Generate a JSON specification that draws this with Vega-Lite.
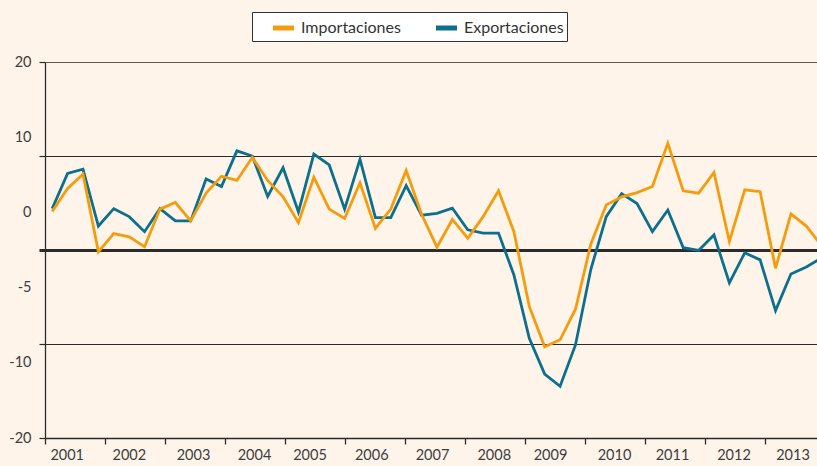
{
  "$schema": "https://vega.github.io/schema/vega-lite/v6.json",
  "width": 772,
  "height": 376,
  "autosize": {"type": "none"},
  "padding": {"left": 45, "top": 62, "right": 0, "bottom": 28},
  "background": "#fef4ea",
  "config": {"view": {"stroke": null}, "font": "Lato"},
  "data": {"values": [
    {"t":0,"serie":"Exportaciones","v":4.4},{"t":1,"serie":"Exportaciones","v":8.15},{"t":2,"serie":"Exportaciones","v":8.6},{"t":3,"serie":"Exportaciones","v":2.55},{"t":4,"serie":"Exportaciones","v":4.4},{"t":5,"serie":"Exportaciones","v":3.55},{"t":6,"serie":"Exportaciones","v":1.95},{"t":7,"serie":"Exportaciones","v":4.4},{"t":8,"serie":"Exportaciones","v":3.1},{"t":9,"serie":"Exportaciones","v":3.1},
    {"t":10,"serie":"Exportaciones","v":7.55},{"t":11,"serie":"Exportaciones","v":6.75},{"t":12,"serie":"Exportaciones","v":10.55},{"t":13,"serie":"Exportaciones","v":10.0},{"t":14,"serie":"Exportaciones","v":5.7},{"t":15,"serie":"Exportaciones","v":8.75},{"t":16,"serie":"Exportaciones","v":4.05},{"t":17,"serie":"Exportaciones","v":10.2},{"t":18,"serie":"Exportaciones","v":9.05},{"t":19,"serie":"Exportaciones","v":4.35},
    {"t":20,"serie":"Exportaciones","v":9.65},{"t":21,"serie":"Exportaciones","v":3.45},{"t":22,"serie":"Exportaciones","v":3.45},{"t":23,"serie":"Exportaciones","v":6.85},{"t":24,"serie":"Exportaciones","v":3.7},{"t":25,"serie":"Exportaciones","v":3.9},{"t":26,"serie":"Exportaciones","v":4.45},{"t":27,"serie":"Exportaciones","v":2.15},{"t":28,"serie":"Exportaciones","v":1.8},{"t":29,"serie":"Exportaciones","v":1.8},
    {"t":30,"serie":"Exportaciones","v":-2.65},{"t":31,"serie":"Exportaciones","v":-9.4},{"t":32,"serie":"Exportaciones","v":-13.2},{"t":33,"serie":"Exportaciones","v":-14.5},{"t":34,"serie":"Exportaciones","v":-10.1},{"t":35,"serie":"Exportaciones","v":-2.05},{"t":36,"serie":"Exportaciones","v":3.55},{"t":37,"serie":"Exportaciones","v":6.0},{"t":38,"serie":"Exportaciones","v":4.95},{"t":39,"serie":"Exportaciones","v":1.95},
    {"t":40,"serie":"Exportaciones","v":4.25},{"t":41,"serie":"Exportaciones","v":0.25},{"t":42,"serie":"Exportaciones","v":-0.05},{"t":43,"serie":"Exportaciones","v":1.6},{"t":44,"serie":"Exportaciones","v":-3.5},{"t":45,"serie":"Exportaciones","v":-0.3},{"t":46,"serie":"Exportaciones","v":-1.05},{"t":47,"serie":"Exportaciones","v":-6.45},{"t":48,"serie":"Exportaciones","v":-2.55},{"t":49,"serie":"Exportaciones","v":-1.8},{"t":50,"serie":"Exportaciones","v":-0.85},
    {"t":0,"serie":"Importaciones","v":4.1},{"t":1,"serie":"Importaciones","v":6.55},{"t":2,"serie":"Importaciones","v":8.05},{"t":3,"serie":"Importaciones","v":-0.2},{"t":4,"serie":"Importaciones","v":1.75},{"t":5,"serie":"Importaciones","v":1.4},{"t":6,"serie":"Importaciones","v":0.35},{"t":7,"serie":"Importaciones","v":4.35},{"t":8,"serie":"Importaciones","v":5.05},{"t":9,"serie":"Importaciones","v":3.1},
    {"t":10,"serie":"Importaciones","v":6.05},{"t":11,"serie":"Importaciones","v":7.85},{"t":12,"serie":"Importaciones","v":7.4},{"t":13,"serie":"Importaciones","v":9.85},{"t":14,"serie":"Importaciones","v":7.4},{"t":15,"serie":"Importaciones","v":5.65},{"t":16,"serie":"Importaciones","v":2.9},{"t":17,"serie":"Importaciones","v":7.75},{"t":18,"serie":"Importaciones","v":4.35},{"t":19,"serie":"Importaciones","v":3.35},
    {"t":20,"serie":"Importaciones","v":7.15},{"t":21,"serie":"Importaciones","v":2.3},{"t":22,"serie":"Importaciones","v":4.35},{"t":23,"serie":"Importaciones","v":8.45},{"t":24,"serie":"Importaciones","v":3.8},{"t":25,"serie":"Importaciones","v":0.3},{"t":26,"serie":"Importaciones","v":3.25},{"t":27,"serie":"Importaciones","v":1.25},{"t":28,"serie":"Importaciones","v":3.55},{"t":29,"serie":"Importaciones","v":6.3},
    {"t":30,"serie":"Importaciones","v":1.95},{"t":31,"serie":"Importaciones","v":-6.0},{"t":32,"serie":"Importaciones","v":-10.3},{"t":33,"serie":"Importaciones","v":-9.55},{"t":34,"serie":"Importaciones","v":-6.3},{"t":35,"serie":"Importaciones","v":0.65},{"t":36,"serie":"Importaciones","v":4.8},{"t":37,"serie":"Importaciones","v":5.65},{"t":38,"serie":"Importaciones","v":6.1},{"t":39,"serie":"Importaciones","v":6.75},
    {"t":40,"serie":"Importaciones","v":11.35},{"t":41,"serie":"Importaciones","v":6.3},{"t":42,"serie":"Importaciones","v":6.05},{"t":43,"serie":"Importaciones","v":8.25},{"t":44,"serie":"Importaciones","v":0.9},{"t":45,"serie":"Importaciones","v":6.4},{"t":46,"serie":"Importaciones","v":6.2},{"t":47,"serie":"Importaciones","v":-1.95},{"t":48,"serie":"Importaciones","v":3.85},{"t":49,"serie":"Importaciones","v":2.55},{"t":50,"serie":"Importaciones","v":0.45}
  ]},
  "mark": {"type": "line", "strokeWidth": 2.8, "clip": true},
  "encoding": {
    "x": {
      "field": "t", "type": "quantitative",
      "scale": {"domain": [-0.468, 49.694], "nice": false, "zero": false},
      "axis": {
        "title": null,
        "values": [-0.468, 3.431, 7.329, 11.228, 15.127, 19.025, 22.924, 26.822, 30.721, 34.62, 38.518, 42.417, 46.316, 0.942, 4.977, 9.149, 13.113, 16.719, 20.728, 24.678, 28.688, 32.346, 36.504, 40.273, 44.269, 48.103],
        "grid": false,
        "tickSize": 6, "tickWidth": 1.3, "tickColor": "#2b2b2b",
        "tickOpacity": {"condition": {"test": "indexof([-0.468, 3.431, 7.329, 11.228, 15.127, 19.025, 22.924, 26.822, 30.721, 34.62, 38.518, 42.417, 46.316], datum.value) >= 0", "value": 1}, "value": 0},
        "labelExpr": "indexof([-0.468, 3.431, 7.329, 11.228, 15.127, 19.025, 22.924, 26.822, 30.721, 34.62, 38.518, 42.417, 46.316], datum.value) >= 0 ? '' : '' + (2001 + round((datum.value - 0.942) / 3.93))",
        "labelOverlap": false, "labelFlush": false, "labelBound": false,
        "labelFontSize": 14.5, "labelColor": "#3d3d3d", "labelPadding": 4,
        "domainColor": "#2b2b2b", "domainWidth": 1.3
      }
    },
    "y": {
      "field": "v", "type": "quantitative",
      "scale": {"domain": [-20, 20], "nice": false},
      "axis": {
        "title": null,
        "values": [20, 12, 10, 4, 0, -4, -10, -12, -20],
        "grid": true,
        "gridOpacity": {"condition": {"test": "datum.value % 10 === 0 && datum.value > -20", "value": 1}, "value": 0},
        "gridWidth": {"condition": {"test": "datum.value === 0", "value": 3}, "value": 1.2},
        "gridColor": {"condition": {"test": "datum.value === 20", "value": "#5f5a55"}, "value": "#2b2b2b"},
        "tickSize": 6, "tickColor": "#2b2b2b",
        "tickWidth": {"condition": {"test": "datum.value === 0", "value": 3}, "value": 1.2},
        "tickOpacity": {"condition": {"test": "datum.value % 10 === 0", "value": 1}, "value": 0},
        "labelExpr": "datum.value === 20 ? '20' : datum.value === 12 ? '10' : datum.value === 4 ? '0' : datum.value === -4 ? '-5' : datum.value === -12 ? '-10' : datum.value === -20 ? '-20' : ''",
        "labelOverlap": false, "labelFlush": false, "labelBound": false,
        "labelFontSize": 14.5, "labelColor": "#3d3d3d", "labelPadding": 8,
        "domainColor": "#2b2b2b", "domainWidth": 1.3
      }
    },
    "color": {
      "field": "serie", "type": "nominal",
      "scale": {"domain": ["Importaciones", "Exportaciones"], "range": ["#f59c0d", "#0d6f8e"]},
      "legend": {
        "title": null, "orient": "none", "legendX": 207, "legendY": -50,
        "direction": "horizontal", "fillColor": "#ffffff", "strokeColor": "#333333",
        "padding": 3, "symbolType": "stroke", "symbolSize": 441, "symbolStrokeWidth": 5,
        "symbolOffset": 15.5, "labelFontSize": 16, "labelColor": "#333333",
        "labelOffset": 4.5, "columnPadding": 17
      }
    }
  }
}
